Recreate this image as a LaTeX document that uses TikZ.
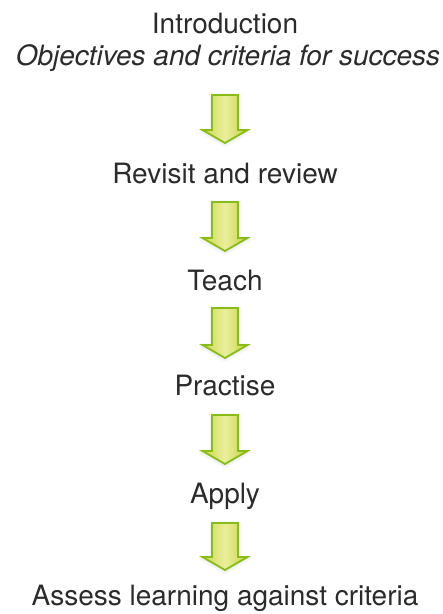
\documentclass[tikz,border=0pt]{standalone}
\usepackage{fontspec}
\setmainfont{TeX Gyre Heros}
\definecolor{txt}{HTML}{2B2B2B}
\definecolor{arrowline}{HTML}{88BC16}
\definecolor{arrowA}{HTML}{CCDA4C}
\definecolor{arrowB}{HTML}{EAEE9E}
\definecolor{arrowC}{HTML}{C4D63C}
\tikzset{
  label text/.style={text=txt, inner sep=0pt, anchor=base, font=\fontsize{28}{33}\selectfont},
  arrowbody/.style={draw=arrowline, line width=1.8pt, line join=miter,
    left color=arrowA, right color=arrowC, middle color=arrowB, shading angle=90},
}
\begin{document}
\begin{tikzpicture}[x=1pt,y=-1pt]
\useasboundingbox (0,0) rectangle (443,614);
\node[label text] (intro) at (225,33) {Introduction};
\node[label text, font=\fontsize{28}{33}\selectfont\itshape] (obj) at (228,65) {Objectives and criteria for success};
\node[label text] (revisit) at (225,183) {Revisit and review};
\node[label text] (teach) at (225,290) {Teach};
\node[label text] (practise) at (225,395) {Practise};
\node[label text] (apply) at (225,503) {Apply};
\node[label text] (assess) at (225,605) {Assess learning against criteria};
\foreach \t/\b in {95/143,202/251,308/358,415/464,523/570}{
  \foreach \w/\o in {7/0.03,5/0.04,3/0.05}{
    \draw[gray, line width=\w pt, opacity=\o, line join=round]
      (212,\t+1) -- (238,\t+1) -- (238,\b-12) -- (247.5,\b-12) -- (225,\b+1) -- (202.5,\b-12) -- (212,\b-12) -- cycle;
  }
  \path[arrowbody]
    (212,\t) -- (238,\t) -- (238,\b-13) -- (247.5,\b-13) -- (225,\b) -- (202.5,\b-13) -- (212,\b-13) -- cycle;
}
\end{tikzpicture}
\end{document}
